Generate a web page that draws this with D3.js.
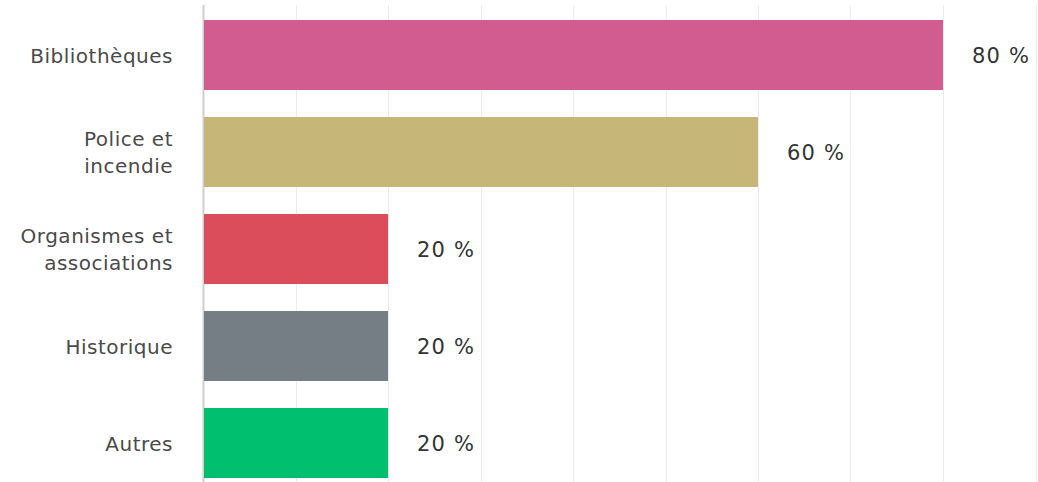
<!DOCTYPE html>
<html>
<head>
<meta charset="utf-8">
<script src="https://cdn.jsdelivr.net/npm/d3@7"></script>
<style>
  body { margin: 0; background: #fff; }
  svg { display: block; font-family: "DejaVu Sans", sans-serif; }
</style>
</head>
<body>
<svg id="chart" width="1038" height="482"></svg>
<script>
var categories = ["Bibliothèques", "Police et\nincendie", "Organismes et\nassociations", "Historique", "Autres"],
    values = [80, 60, 20, 20, 20],
    colors = ["#d25c8f", "#c6b677", "#dc4d5b", "#767e85", "#00bf6f"],
    gridTicks = [0, 10, 20, 30, 40, 50, 60, 70, 80, 90];

var svg = d3.select("#chart"),
    x = d3.scaleLinear().domain([0, 100]).range([203, 1128]),
    y = d3.scaleBand()
        .domain(categories)
        .range([6.5, 491.5])
        .paddingInner(27 / 97)
        .paddingOuter(13.5 / 97);

// grid lines
svg.append("g")
  .selectAll("line")
  .data(gridTicks)
  .join("line")
    .attr("x1", function (d) { return Math.round(x(d)) + 0.5; })
    .attr("x2", function (d) { return Math.round(x(d)) + 0.5; })
    .attr("y1", 5)
    .attr("y2", 482)
    .attr("stroke", function (d) { return d === 0 ? "#cfcfcf" : "#ececec"; })
    .attr("stroke-width", function (d) { return d === 0 ? 2 : 1; });

// bars
svg.append("g")
  .selectAll("rect")
  .data(values)
  .join("rect")
    .attr("x", x(0) + 1)
    .attr("y", function (d, i) { return y(categories[i]); })
    .attr("width", function (d) { return x(d) - x(0) - 1; })
    .attr("height", y.bandwidth())
    .attr("fill", function (d, i) { return colors[i]; });

// value labels
svg.append("g")
  .selectAll("text")
  .data(values)
  .join("text")
    .attr("x", function (d) { return x(d) + 29; })
    .attr("y", function (d, i) { return y(categories[i]) + y.bandwidth() / 2; })
    .attr("dy", "0.4em")
    .attr("font-size", 21)
    .attr("letter-spacing", 1.2)
    .attr("fill", "#333")
    .text(function (d) { return d + " %"; });

// category labels
var labels = svg.append("g")
  .selectAll("text")
  .data(categories)
  .join("text")
    .attr("text-anchor", "end")
    .attr("font-size", 20)
    .attr("letter-spacing", 0.5)
    .attr("fill", "#4a4a4a");

labels.each(function (c) {
  var lines = c.split("\n"),
      cy = y(c) + y.bandwidth() / 2,
      lh = 27,
      t = d3.select(this);
  lines.forEach(function (l, k) {
    t.append("tspan")
      .attr("x", 173)
      .attr("y", cy + (k - (lines.length - 1) / 2) * lh)
      .attr("dy", "0.38em")
      .text(l);
  });
});
</script>
</body>
</html>
